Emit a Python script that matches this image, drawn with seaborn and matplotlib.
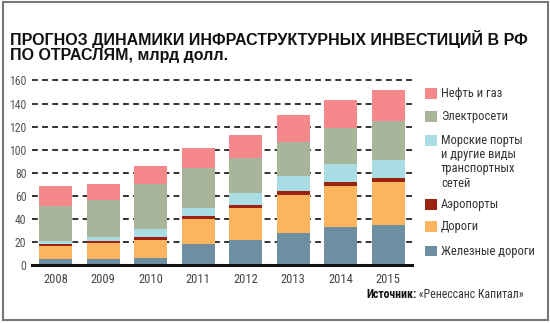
import matplotlib
matplotlib.use("Agg")
import matplotlib.pyplot as plt
from matplotlib.patches import Rectangle
import numpy as np
import pandas as pd
import seaborn as sns

years = ["2008", "2009", "2010", "2011", "2012", "2013", "2014", "2015"]
rail = [5.2, 5.2, 6.3, 18.4, 21.9, 27.8, 33.0, 34.7]
roads = [11.2, 13.5, 15.6, 21.6, 27.9, 32.5, 35.4, 37.0]
airports = [2.0, 1.7, 2.0, 2.9, 2.6, 3.7, 3.5, 3.5]
ports = [2.3, 4.0, 7.0, 6.3, 10.0, 13.0, 15.5, 16.0]
power = [30.5, 32.2, 39.0, 34.5, 30.0, 29.6, 31.0, 33.6]
oil = [17.0, 13.5, 15.5, 17.6, 20.4, 23.3, 25.0, 26.8]

series_names = ["Железные дороги", "Дороги", "Аэропорты",
                "Морские порты\nи другие виды\nтранспортных\nсетей",
                "Электросети", "Нефть и газ"]
series_values = [rail, roads, airports, ports, power, oil]
colors = ["#6E8EA2", "#FBB55F", "#9A2410", "#A9DCE3", "#A9B59B", "#F4888B"]

title_lines = ["ПРОГНОЗ ДИНАМИКИ ИНФРАСТРУКТУРНЫХ ИНВЕСТИЦИЙ В РФ",
               "ПО ОТРАСЛЯМ, млрд долл."]
source_bold = "Источник:"
source_rest = " «Ренессанс Капитал»"

sns.set_style("white")
NARROW = ["Roboto Condensed", "Roboto", "DejaVu Sans"]
plt.rcParams["font.family"] = NARROW
import logging
logging.getLogger("matplotlib.font_manager").setLevel(logging.ERROR)

bg = "#F4F4F2"
fig = plt.figure(figsize=(5.5, 3.23), dpi=100, facecolor=bg)
W, H = 550, 323

def fx(px):
    return px / W

def fy(py):
    return 1 - py / H

ax = fig.add_axes([fx(32), fy(265), fx(412) - fx(32), fy(79.3) - fy(265)])
ax.set_facecolor("none")

df = pd.DataFrame({"year": years})
bottom = np.zeros(len(years))
for name, vals, c in zip(series_names, series_values, colors):
    df["v"] = vals
    sns.barplot(data=df, x="year", y="v", bottom=bottom, color=c,
                width=0.695, ax=ax, saturation=1, linewidth=0, zorder=3)
    bottom = bottom + np.array(vals)

ax.set_xlim(-0.5, 7.5)
ax.set_ylim(0, 161)
ax.set_xlabel("")
ax.set_ylabel("")

yt = [0, 20, 40, 60, 80, 100, 120, 140, 160]
ax.set_yticks(yt)
ax.set_yticklabels([str(v) for v in yt])
for v in yt[1:]:
    ax.axhline(v, color="#333333", lw=1.4, ls=(0, (3, 2.2)), zorder=1, clip_on=False)

for s in ["top", "right", "left"]:
    ax.spines[s].set_visible(False)
ax.spines["bottom"].set_linewidth(2.2)
ax.spines["bottom"].set_color("#111111")
ax.spines["bottom"].set_zorder(5)

ax.tick_params(axis="y", length=0, pad=4, labelsize=8.5, labelcolor="#555555")
ax.tick_params(axis="x", which="major", length=0, pad=5.5, labelsize=9, labelcolor="#444444")
ax.set_xticks(np.arange(-0.5, 8, 1.0), minor=True)
ax.tick_params(axis="x", which="minor", length=5, width=1.6, color="#111111", direction="out")

# title
for yy, line in zip([39, 55.5], title_lines):
    fig.text(fx(10), fy(yy), line, fontsize=11.5, fontweight="bold",
             family=["Liberation Sans", "DejaVu Sans"], color="#111111", va="center", ha="left")

# legend (top to bottom)
leg_items = [(series_names[5], colors[5], 94),
             (series_names[4], colors[4], 116.5),
             (series_names[3], colors[3], 140.5),
             (series_names[2], colors[2], 204.5),
             (series_names[1], colors[1], 226.5),
             (series_names[0], colors[0], 251)]
for name, c, yc in leg_items:
    fig.patches.append(Rectangle((fx(424.5), fy(yc + 5)), fx(12.5), (10.5 / H),
                                 transform=fig.transFigure, facecolor=c, edgecolor="none"))
    fig.text(fx(441), fy(yc - 6.5), name, fontsize=9, color="#333333", va="top", ha="left",
             linespacing=1.12)

# source
t2 = fig.text(fx(524), fy(295), source_rest, fontsize=8.5, color="#333333", ha="right", va="center")
fig.canvas.draw()
bb = t2.get_window_extent()
fig.text(bb.x0 / W, fy(295), source_bold, fontsize=8.5, fontweight="bold", color="#111111",
         ha="right", va="center")

# outer frame
fig.patches.append(Rectangle((fx(2.5), fy(320)), fx(545), (318.5 / H), transform=fig.transFigure,
                             facecolor="none", edgecolor="#777777", lw=1.5))

fig.savefig("out.png", dpi=100, facecolor="white")
